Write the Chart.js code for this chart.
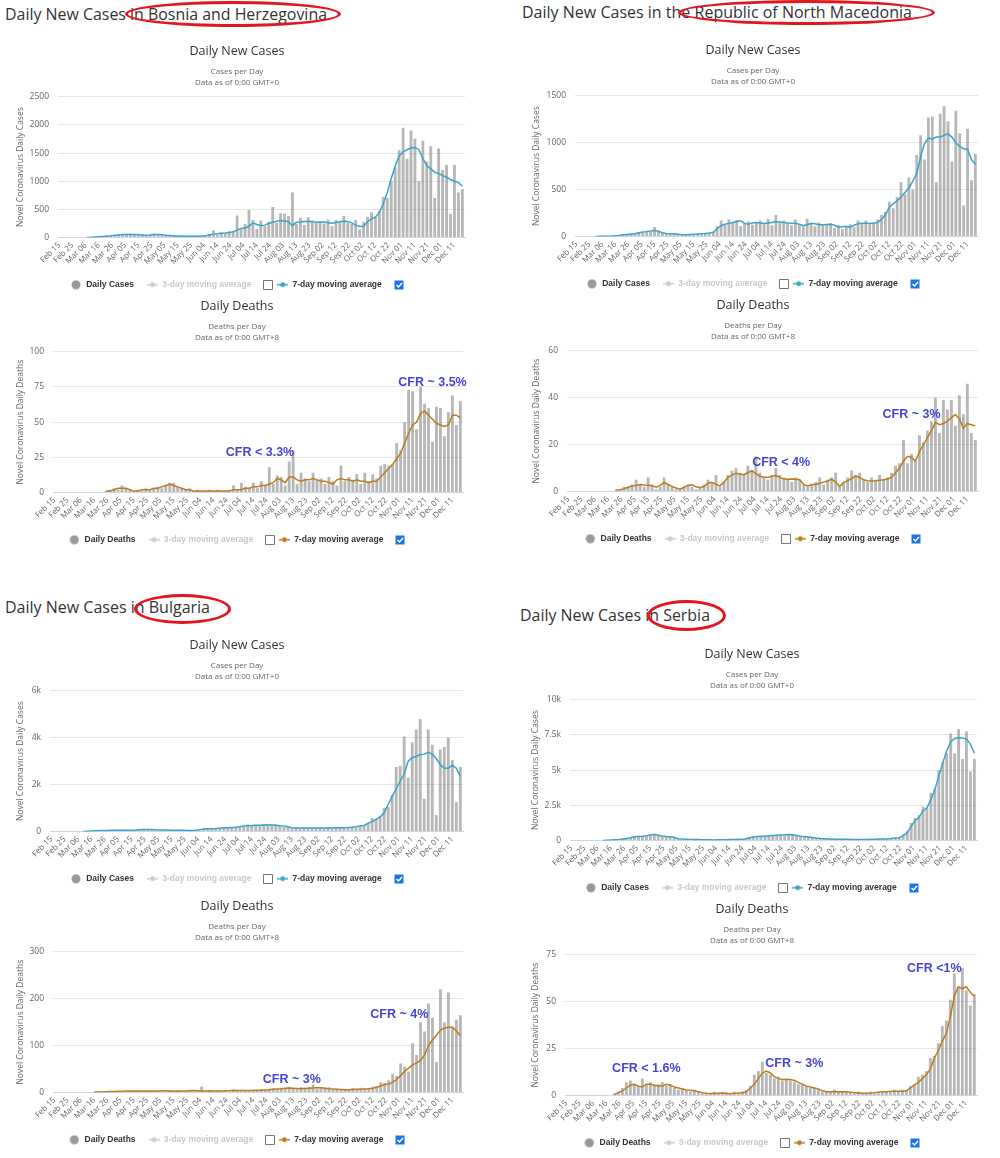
<!DOCTYPE html>
<html>
<head>
<meta charset="utf-8">
<script src="https://cdn.jsdelivr.net/npm/chart.js@4.4.0/dist/chart.umd.min.js"></script>
<style>
  body { margin: 0; background: #fff; }
  #page { position: relative; width: 1000px; height: 1158px; overflow: hidden; background: #fff; }
  .hdr { position: absolute; font-family: "Open Sans", sans-serif; font-size: 17px; line-height: 22px; color: #333; white-space: nowrap; transform-origin: left center; }
  .ring { position: absolute; border: 3px solid #e3161e; border-radius: 50%; box-sizing: border-box; }
  .box { position: absolute; width: 474px; height: 259px; }
</style>
</head>
<body>
<div id="page">
  <div class="hdr" data-w="322" style="left:5px;top:3px">Daily New Cases in Bosnia and Herzegovina</div>
  <div class="hdr" data-w="390" style="left:522px;top:1px">Daily New Cases in the Republic of North Macedonia</div>
  <div class="hdr" data-w="205" style="left:5px;top:596px">Daily New Cases in Bulgaria</div>
  <div class="hdr" data-w="190" style="left:520px;top:604px">Daily New Cases in Serbia</div>

  <div class="box" style="left:0px;top:40px"><canvas id="bihC" width="474" height="259"></canvas></div>
  <div class="box" style="left:0px;top:295px"><canvas id="bihD" width="474" height="259"></canvas></div>
  <div class="box" style="left:516px;top:39px"><canvas id="mkdC" width="474" height="259"></canvas></div>
  <div class="box" style="left:516px;top:294px"><canvas id="mkdD" width="474" height="259"></canvas></div>
  <div class="box" style="left:0px;top:634px"><canvas id="bgrC" width="474" height="259"></canvas></div>
  <div class="box" style="left:0px;top:895px"><canvas id="bgrD" width="474" height="259"></canvas></div>
  <div class="box" style="left:515px;top:643px"><canvas id="srbC" width="474" height="259"></canvas></div>
  <div class="box" style="left:515px;top:898px"><canvas id="srbD" width="474" height="259"></canvas></div>

  <div class="ring" style="left:125px;top:1px;width:216px;height:26px"></div>
  <div class="ring" style="left:678px;top:0px;width:257px;height:25px"></div>
  <div class="ring" style="left:134px;top:594px;width:97px;height:30px"></div>
  <div class="ring" style="left:647px;top:600px;width:79px;height:31px"></div>
</div>
<script>
// one value every 3 days, starting Feb 15
var dayStep = 3;
var tickLabels = ["Feb 15", "Feb 25", "Mar 06", "Mar 16", "Mar 26", "Apr 05", "Apr 15", "Apr 25",
  "May 05", "May 15", "May 25", "Jun 04", "Jun 14", "Jun 24", "Jul 04", "Jul 14", "Jul 24",
  "Aug 03", "Aug 13", "Aug 23", "Sep 02", "Sep 12", "Sep 22", "Oct 02", "Oct 12", "Oct 22",
  "Nov 01", "Nov 11", "Nov 21", "Dec 01", "Dec 11"];

// Bosnia and Herzegovina
var bihCases = [
  0, 0, 0, 0, 0, 0, 0, 3, 8, 12,
  15, 20, 30, 35, 40, 55, 60, 45, 70, 55,
  40, 55, 35, 50, 70, 45, 55, 40, 30, 35,
  25, 30, 20, 15, 25, 20, 30, 45, 60, 130,
  50, 90, 70, 110, 120, 390, 140, 240, 490, 310,
  150, 300, 200, 280, 540, 260, 430, 420, 380, 800,
  240, 350, 220, 360, 300, 270, 290, 250, 320, 200,
  310, 270, 380, 260, 240, 310, 140, 280, 370, 450,
  360, 470, 720, 700, 1000, 1250, 1550, 1950, 1400, 1900,
  1760, 1000, 1720, 1350, 1620, 700, 1580, 1200, 1290, 420,
  1290, 800, 860];
var bihCasesAvg = [
  null, null, null, null, null, null, null, 2, 5, 10,
  14, 18, 25, 30, 38, 45, 52, 55, 55, 52,
  48, 45, 42, 45, 52, 55, 50, 42, 35, 30,
  27, 25, 22, 20, 20, 22, 25, 30, 45, 60,
  65, 75, 80, 90, 100, 130, 160, 170, 200, 260,
  230, 210, 220, 250, 270, 290, 300, 295, 280, 210,
  270, 275, 285, 290, 280, 275, 270, 280, 260, 255,
  265, 280, 290, 285, 260, 220, 195, 200, 280, 330,
  360, 450, 600, 800, 1050, 1270, 1450, 1520, 1560, 1590,
  1600, 1560, 1400, 1280, 1220, 1160, 1140, 1100, 1070, 1030,
  1000, 980, 910];
var bihDeaths = [
  0, 0, 0, 0, 0, 0, 0, 0, 0, 0,
  0, 0, 0, 1, 2, 3, 2, 5, 3, 2,
  1, 2, 1, 3, 2, 3, 4, 3, 5, 7,
  7, 4, 3, 2, 3, 1, 2, 1, 1, 2,
  1, 2, 1, 1, 2, 5, 2, 7, 4, 3,
  7, 3, 8, 5, 18, 6, 12, 11, 5, 22,
  30, 6, 14, 10, 8, 14, 9, 10, 6, 11,
  8, 5, 19, 8, 11, 9, 13, 6, 14, 8,
  13, 10, 19, 20, 19, 20, 35, 30, 50, 73,
  72, 45, 75, 63, 60, 36, 61, 60, 40, 57,
  69, 48, 65];
var bihDeathsAvg = [
  null, null, null, null, null, null, null, null, null, null,
  null, null, null, 1, 1, 2, 3, 3, 3, 2,
  1, 1, 2, 2, 2, 3, 3, 4, 5, 6,
  5, 4, 3, 2, 2, 1, 1, 1, 1, 1,
  1, 1, 1, 1, 1, 2, 2, 2, 3, 3,
  4, 4, 5, 5, 6, 7, 10, 9, 7, 11,
  11, 9, 8, 9, 9, 10, 9, 8, 8, 7,
  6, 9, 10, 9, 9, 8, 9, 8, 8, 7,
  8, 8, 11, 14, 17, 20, 24, 28, 35, 42,
  48, 50, 56, 58, 55, 52, 49, 48, 47, 48,
  55, 55, 53];

// North Macedonia
var mkdCases = [
  0, 0, 0, 0, 0, 1, 3, 2, 5, 6,
  8, 15, 22, 20, 30, 35, 45, 40, 60, 50,
  100, 60, 40, 30, 25, 35, 25, 15, 20, 25,
  20, 30, 25, 35, 30, 50, 110, 170, 120, 180,
  150, 175, 110, 140, 160, 125, 150, 170, 130, 190,
  120, 230, 150, 170, 140, 120, 180, 130, 110, 190,
  140, 110, 150, 120, 130, 140, 90, 120, 80, 110,
  130, 100, 170, 140, 170, 130, 150, 180, 230, 260,
  370, 300, 420, 580, 450, 630, 500, 870, 1080, 820,
  1270, 1280, 580, 1310, 1390, 1230, 800, 1340, 1100, 330,
  1150, 600, 880];
var mkdCasesAvg = [
  null, null, null, null, null, 1, 2, 3, 4, 5,
  7, 12, 18, 22, 26, 30, 40, 48, 52, 58,
  65, 55, 40, 33, 30, 30, 25, 20, 18, 22,
  25, 27, 30, 32, 38, 45, 85, 115, 130, 140,
  150, 160, 168, 140, 130, 145, 150, 145, 140, 145,
  150, 160, 155, 150, 143, 140, 140, 130, 118, 125,
  140, 135, 125, 125, 128, 130, 120, 100, 105, 108,
  100, 120, 135, 140, 140, 138, 140, 150, 180, 230,
  310, 350, 380, 420, 470, 520, 590, 670, 850, 990,
  1050, 1040, 1060, 1060, 1080, 1095, 1060, 1000, 960, 935,
  930, 820, 770];
var mkdDeaths = [
  0, 0, 0, 0, 0, 0, 0, 0, 0, 0,
  0, 0, 1, 1, 2, 2, 3, 5, 3, 2,
  6, 3, 1, 2, 6, 3, 2, 1, 1, 2,
  3, 2, 1, 2, 3, 5, 4, 7, 2, 4,
  7, 9, 10, 8, 7, 11, 9, 15, 8, 6,
  5, 7, 10, 7, 6, 5, 4, 6, 5, 3,
  2, 3, 4, 6, 3, 5, 6, 8, 2, 4,
  6, 9, 7, 8, 5, 4, 6, 5, 7, 5,
  6, 8, 11, 12, 22, 12, 16, 13, 24, 21,
  26, 30, 40, 25, 39, 35, 39, 28, 41, 33,
  46, 25, 22];
var mkdDeathsAvg = [
  null, null, null, null, null, null, null, null, null, null,
  null, null, 0.5, 0.8, 1.2, 1.8, 2.4, 2.6, 3.0, 2.8,
  2.7, 2.5, 1.8, 2.6, 3.9, 3.0, 2.2, 1.5, 1.0, 1.8,
  2.6, 2.9, 2.0, 1.6, 2.2, 3.5, 3.9, 3.0, 2.4, 4.0,
  6.0, 7.0, 7.8, 7.5, 7.2, 8.0, 8.9, 7.6, 6.5, 6.2,
  6.0, 6.5, 6.8, 6.0, 5.3, 5.2, 5.3, 5.2, 5.0, 3.0,
  2.4, 3.0, 3.0, 3.5, 4.0, 4.5, 5.3, 4.0, 2.1, 3.8,
  4.6, 5.5, 6.7, 6.0, 5.0, 4.6, 4.5, 4.6, 4.8, 5.0,
  5.3, 6.0, 8.0, 10.0, 13.0, 15.0, 14.5, 13.0, 17.0, 20.0,
  23.0, 26.0, 29.5, 28.5, 29.0, 30.0, 31.5, 32.8, 31.0, 27.0,
  29.0, 28.5, 28.0];

// Bulgaria
var bgrCases = [
  0, 0, 0, 0, 0, 0, 0, 0, 4, 10,
  20, 30, 40, 45, 40, 55, 45, 60, 50, 50,
  60, 55, 85, 90, 60, 100, 70, 60, 75, 50,
  60, 50, 40, 55, 35, 50, 60, 100, 110, 130,
  110, 140, 120, 180, 150, 190, 200, 230, 260, 300,
  240, 290, 250, 310, 260, 280, 300, 240, 200, 220,
  140, 170, 130, 160, 140, 170, 140, 160, 120, 170,
  140, 170, 150, 190, 160, 200, 170, 250, 230, 350,
  580, 540, 650, 1000, 1050, 1550, 2750, 2800, 4050, 2300,
  3800, 4350, 4800, 1400, 4350, 3700, 700, 3500, 3600, 4000,
  3050, 1250, 2750];
var bgrCasesAvg = [
  null, null, null, null, null, null, null, null, 5, 15,
  25, 35, 40, 45, 45, 48, 50, 50, 52, 55,
  55, 60, 70, 80, 85, 80, 70, 65, 60, 60,
  55, 52, 50, 48, 45, 45, 55, 80, 110, 115,
  120, 125, 140, 155, 165, 175, 185, 200, 240, 250,
  255, 265, 270, 280, 285, 280, 265, 250, 240, 200,
  160, 150, 145, 145, 150, 150, 150, 150, 145, 150,
  150, 155, 160, 165, 170, 180, 200, 240, 260, 350,
  420, 520, 620, 800, 1150, 1500, 1830, 2150, 2450, 3000,
  3150, 3200, 3280, 3300, 3380, 3300, 3110, 2850, 2700, 2700,
  2830, 2700, 2350];
var bgrDeaths = [
  0, 0, 0, 0, 0, 0, 0, 0, 0, 0,
  1, 1, 2, 1, 3, 2, 4, 3, 2, 4,
  3, 4, 2, 5, 3, 3, 4, 2, 3, 5,
  3, 4, 2, 3, 5, 2, 3, 12, 2, 4,
  3, 5, 2, 6, 4, 5, 3, 6, 4, 5,
  6, 5, 7, 6, 8, 9, 7, 10, 8, 12,
  9, 7, 11, 10, 12, 17, 8, 10, 9, 11,
  6, 8, 5, 7, 6, 9, 7, 10, 8, 9,
  12, 14, 22, 20, 26, 40, 35, 62, 55, 45,
  105, 80, 150, 130, 190, 160, 65, 220, 150, 213,
  140, 155, 165];
var bgrDeathsAvg = [
  null, null, null, null, null, null, null, null, null, null,
  1, 1, 1, 1.5, 2, 2, 2, 2.5, 3, 3,
  3, 3, 3, 3, 3, 3, 3, 3.5, 3.5, 3,
  3, 3, 3, 3, 3.5, 4, 3.5, 3, 3, 3.5,
  3, 3, 3, 3.5, 4, 5, 4.5, 4, 4, 4.5,
  4.5, 5, 5, 5.5, 6, 7, 7.5, 8, 9, 9.5,
  9, 8.5, 8, 8.5, 9, 9.5, 10, 10, 9, 8,
  7.5, 7, 6.5, 6, 6, 6.5, 7, 7, 7.5, 8,
  9, 11, 14, 17, 18, 22, 28, 36, 45, 52,
  59, 63, 68, 80, 100, 112, 122, 133, 137, 139,
  139, 131, 121];

// Serbia
var srbCases = [
  0, 0, 0, 0, 0, 0, 0, 0, 10, 30,
  50, 60, 90, 120, 140, 200, 250, 300, 260, 350,
  430, 380, 350, 300, 280, 250, 200, 110, 90, 80,
  80, 60, 70, 50, 60, 40, 40, 50, 60, 70,
  60, 80, 70, 90, 100, 250, 270, 300, 320, 300,
  350, 340, 380, 400, 380, 430, 400, 340, 300, 270,
  240, 200, 170, 140, 120, 100, 110, 90, 80, 90,
  70, 80, 70, 60, 80, 70, 90, 100, 110, 130,
  120, 150, 180, 220, 450, 650, 1250, 1600, 1800, 2400,
  2300, 3400, 3700, 5000, 5600, 6200, 7600, 6200, 7900, 5800,
  7750, 4900, 5800];
var srbCasesAvg = [
  null, null, null, null, null, null, null, null, 5, 20,
  40, 60, 80, 110, 150, 200, 260, 280, 300, 340,
  400, 420, 380, 320, 290, 270, 230, 130, 100, 90,
  80, 70, 65, 60, 55, 45, 40, 45, 55, 60,
  65, 70, 75, 80, 100, 180, 250, 290, 300, 310,
  330, 350, 370, 390, 400, 420, 410, 360, 310, 280,
  250, 220, 180, 150, 130, 110, 100, 95, 90, 85,
  80, 75, 70, 70, 70, 75, 80, 90, 100, 110,
  120, 140, 170, 200, 350, 550, 1000, 1400, 1650, 2100,
  2330, 2900, 3600, 4600, 5500, 6380, 7000, 7250, 7300, 7280,
  7210, 6850, 6200];
var srbDeaths = [
  0, 0, 0, 0, 0, 0, 0, 0, 0, 0,
  0, 0, 1, 2, 4, 7, 8, 6, 5, 9,
  6, 7, 5, 6, 7, 5, 6, 4, 3, 4,
  3, 2, 3, 2, 1, 1, 1, 2, 1, 1,
  1, 1, 2, 1, 2, 3, 5, 11, 13, 18,
  12, 11, 9, 10, 8, 9, 8, 7, 6, 6,
  5, 4, 4, 3, 2, 2, 2, 3, 2, 2,
  2, 2, 1, 2, 1, 1, 2, 1, 2, 2,
  2, 2, 3, 2, 3, 3, 5, 6, 10, 11,
  13, 20, 21, 28, 37, 40, 51, 65, 58, 68,
  56, 48, 54];
var srbDeathsAvg = [
  null, null, null, null, null, null, null, null, null, null,
  null, null, 0.5, 1.5, 2.5, 4, 5.5, 6, 5, 4.5,
  6, 6, 5.5, 5, 5, 6, 5.5, 4.5, 4, 3.5,
  3, 2.8, 2.5, 2, 1.5, 1.2, 1, 1, 1.2, 1.3,
  1.2, 1, 1.2, 1.3, 1.5, 2, 4, 6, 9, 12,
  13, 12, 10, 9, 8.5, 8.5, 8.5, 8, 7, 6,
  5, 4.5, 4, 3.5, 2.5, 2, 2, 2, 2, 2,
  2, 1.8, 1.5, 1.5, 1.2, 1.2, 1.3, 1.5, 1.8, 2,
  2, 2.2, 2.3, 2.3, 2.3, 2.5, 4, 5.5, 7, 9,
  11, 14, 20, 24, 29, 33, 42, 53, 58, 57,
  58, 55, 53];

// CFR notes (day index, value)
var bihNotes = [{ day: 155, value: 28.6, text: "CFR < 3.3%" }, { day: 285, value: 78, text: "CFR ~ 3.5%" }];
var mkdNotes = [{ day: 160, value: 12.4, text: "CFR < 4%" }, { day: 258, value: 33, text: "CFR ~ 3%" }];
var bgrNotes = [{ day: 179, value: 28, text: "CFR ~ 3%" }, { day: 260, value: 167, text: "CFR ~ 4%" }];
var srbNotes = [{ day: 60, value: 14.5, text: "CFR < 1.6%" }, { day: 171, value: 17.1, text: "CFR ~ 3%" }, { day: 276, value: 67.5, text: "CFR <1%" }];

var legendFont = { size: 8.5, weight: "bold", family: '"Liberation Sans", Arial, sans-serif' };
var legendFontStr = 'bold 8.5px "Liberation Sans", Arial, sans-serif';
var iconW = 11;

Chart.defaults.font.family = '"Open Sans", "Liberation Sans", sans-serif';
Chart.defaults.color = "#666";

function makeIcon(color, kind) {
  var c = document.createElement("canvas");
  c.width = iconW;
  c.height = 10;
  var g = c.getContext("2d");
  g.fillStyle = color;
  g.strokeStyle = color;
  if (kind == "dot") {
    g.beginPath();
    g.arc(5, 5, 4.5, 0, Math.PI * 2);
    g.fill();
  } else {
    g.lineWidth = 1.5;
    g.beginPath();
    g.moveTo(0, 5);
    g.lineTo(iconW, 5);
    g.stroke();
    g.beginPath();
    g.arc(iconW / 2, 5, 2.4, 0, Math.PI * 2);
    g.fill();
  }
  return c;
}

function toPoints(arr) {
  return arr.map(function (v, i) {
    return { x: i * dayStep, y: v };
  });
}

var notesPlugin = {
  id: "notes",
  afterDatasetsDraw: function (chart, args, opts) {
    var items = opts.items || [];
    var ctx = chart.ctx;
    ctx.save();
    ctx.font = 'bold 12.5px "Liberation Sans", Arial, sans-serif';
    ctx.fillStyle = "#4545d8";
    ctx.textAlign = "center";
    ctx.textBaseline = "middle";
    items.forEach(function (n) {
      ctx.fillText(n.text, chart.scales.x.getPixelForValue(n.day), chart.scales.y.getPixelForValue(n.value));
    });
    ctx.restore();
  },
};

// the two checkboxes next to the moving average items
var checkboxPlugin = {
  id: "checkboxes",
  afterDraw: function (chart) {
    var lg = chart.legend;
    if (!lg || !lg.legendHitBoxes) return;
    var ctx = chart.ctx;
    ctx.save();
    ctx.font = legendFontStr;
    lg.legendHitBoxes.forEach(function (hb, i) {
      if (i == 0) return;
      var w = ctx.measureText(chart.data.datasets[i].label).width;
      var bx = Math.round(hb.left + iconW + 4.25 + w + 12) + 0.5;
      var by = Math.round(hb.top + hb.height / 2 - 4.5) + 0.5;
      ctx.beginPath();
      ctx.rect(bx, by, 9, 9);
      if (i == 1) {
        ctx.fillStyle = "#fff";
        ctx.fill();
        ctx.strokeStyle = "#767676";
        ctx.lineWidth = 1;
        ctx.stroke();
      } else {
        ctx.fillStyle = "#1a73e8";
        ctx.fill();
        ctx.strokeStyle = "#fff";
        ctx.lineWidth = 1.5;
        ctx.beginPath();
        ctx.moveTo(bx + 2, by + 4.5);
        ctx.lineTo(bx + 4, by + 6.5);
        ctx.lineTo(bx + 7.5, by + 2.5);
        ctx.stroke();
      }
    });
    ctx.restore();
  },
};

function dibujarGrafico(id, c) {
  var deaths = c.kind == "deaths";
  var lineColor = deaths ? "#bd7c1b" : "#3aa3c9";
  new Chart(document.getElementById(id), {
    type: "bar",
    data: {
      datasets: [
        {
          type: "bar",
          label: deaths ? "Daily Deaths" : "Daily Cases",
          data: toPoints(c.bars),
          backgroundColor: "rgba(135, 135, 135, 0.6)",
          barPercentage: 0.72,
          categoryPercentage: 1,
          order: 2,
          legendIcon: makeIcon("#999", "dot"),
          legendText: "#333",
        },
        {
          type: "line",
          label: "3-day moving average",
          data: [],
          borderColor: "#ccc",
          legendIcon: makeIcon("#cccccc", "line"),
          legendText: "#c8c8c8",
        },
        {
          type: "line",
          label: "7-day moving average",
          data: toPoints(c.avg),
          borderColor: lineColor,
          borderWidth: 1.5,
          pointRadius: 0,
          order: 1,
          legendIcon: makeIcon(lineColor, "line"),
          legendText: "#333",
        },
      ],
    },
    options: {
      responsive: false,
      animation: false,
      events: [],
      plugins: {
        title: {
          display: true,
          text: deaths ? "Daily Deaths" : "Daily New Cases",
          color: "#333",
          font: { size: 12.5, weight: "normal", lineHeight: 1.25 },
          padding: { top: 4, bottom: 6 },
        },
        subtitle: {
          display: true,
          text: deaths ? ["Deaths per Day", "Data as of 0:00 GMT+8"] : ["Cases per Day", "Data as of 0:00 GMT+0"],
          color: "#666",
          font: { size: 8, lineHeight: 1.3 },
          padding: { top: 1, bottom: 9.4 },
        },
        legend: {
          position: "bottom",
          labels: {
            usePointStyle: true,
            pointStyleWidth: iconW,
            padding: 13,
            font: legendFont,
            generateLabels: function (chart) {
              return chart.data.datasets.map(function (ds, i) {
                var pad = i == 1 ? "\u2002\u2002\u2002" : i == 2 ? "\u2002\u2002\u2002\u2002\u2002" : "";
                return {
                  text: ds.label + pad,
                  fontColor: ds.legendText,
                  pointStyle: ds.legendIcon,
                  fillStyle: "#999",
                  strokeStyle: "#999",
                  lineWidth: 0,
                  hidden: false,
                  datasetIndex: i,
                };
              });
            },
          },
        },
        tooltip: { enabled: false },
        notes: { items: c.notes || [] },
      },
      scales: {
        x: {
          type: "linear",
          min: -1,
          max: 308,
          offset: false,
          grid: { display: false, drawTicks: false },
          border: { display: true, color: "#ccd6eb" },
          afterBuildTicks: function (ax) {
            ax.ticks = tickLabels.map(function (t, k) {
              return { value: k * 10 };
            });
          },
          afterFit: function (ax) {
            ax.height = 30;
          },
          ticks: {
            autoSkip: false,
            maxRotation: 45,
            minRotation: 45,
            padding: 3,
            color: "#666",
            font: { size: 8 },
            callback: function (v) {
              return tickLabels[Math.round(v / 10)];
            },
          },
        },
        y: {
          min: 0,
          max: c.yMax,
          grid: { color: "#e6e6e6", drawTicks: false },
          border: { display: false },
          ticks: {
            stepSize: c.yStep,
            padding: 9,
            color: "#666",
            font: { size: 8.5 },
            callback: function (v) {
              if (c.kilo && v >= 1000) return v / 1000 + "k";
              return v;
            },
          },
          title: {
            display: true,
            text: deaths ? "Novel Coronavirus Daily Deaths" : "Novel Coronavirus Daily Cases",
            color: "#666",
            font: { size: 8.5 },
            padding: { top: 15, bottom: 0 },
          },
          afterFit: function (ax) {
            ax.width = c.yWidth;
          },
        },
        yRight: {
          type: "linear",
          position: "right",
          grid: { display: false, drawTicks: false },
          border: { display: false },
          ticks: { display: false },
          afterFit: function (ax) {
            ax.width = c.padRight;
          },
        },
      },
    },
    plugins: [notesPlugin, checkboxPlugin],
  });
}

window.onload = function () {
  // fit the page headers to the reference widths
  document.querySelectorAll(".hdr").forEach(function (el) {
    var w = el.getBoundingClientRect().width;
    el.style.transform = "scaleX(" + (Number(el.dataset.w) / w) + ")";
  });

  dibujarGrafico("bihC", { kind: "cases", bars: bihCases, avg: bihCasesAvg, yMax: 2500, yStep: 500, yWidth: 58, padRight: 9 });
  dibujarGrafico("bihD", { kind: "deaths", bars: bihDeaths, avg: bihDeathsAvg, yMax: 100, yStep: 25, yWidth: 53, padRight: 11, notes: bihNotes });
  dibujarGrafico("mkdC", { kind: "cases", bars: mkdCases, avg: mkdCasesAvg, yMax: 1500, yStep: 500, yWidth: 59, padRight: 12 });
  dibujarGrafico("mkdD", { kind: "deaths", bars: mkdDeaths, avg: mkdDeathsAvg, yMax: 60, yStep: 20, yWidth: 51, padRight: 12, notes: mkdNotes });
  dibujarGrafico("bgrC", { kind: "cases", bars: bgrCases, avg: bgrCasesAvg, yMax: 6000, yStep: 2000, yWidth: 50, padRight: 11, kilo: true });
  dibujarGrafico("bgrD", { kind: "deaths", bars: bgrDeaths, avg: bgrDeathsAvg, yMax: 300, yStep: 100, yWidth: 53, padRight: 11, notes: bgrNotes });
  dibujarGrafico("srbC", { kind: "cases", bars: srbCases, avg: srbCasesAvg, yMax: 10000, yStep: 2500, yWidth: 55, padRight: 12, kilo: true });
  dibujarGrafico("srbD", { kind: "deaths", bars: srbDeaths, avg: srbDeathsAvg, yMax: 75, yStep: 25, yWidth: 50, padRight: 12, notes: srbNotes });
};
</script>
</body>
</html>
